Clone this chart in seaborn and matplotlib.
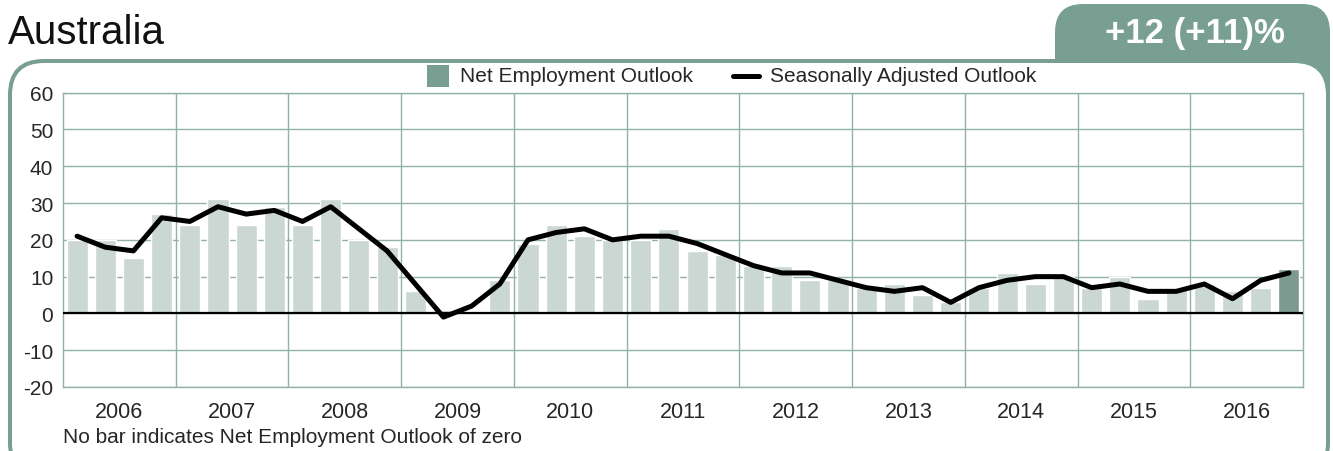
import numpy as np
import pandas as pd
import matplotlib
matplotlib.use("Agg")
import matplotlib.pyplot as plt
import seaborn as sns
from matplotlib.patches import FancyBboxPatch, Rectangle
from matplotlib.lines import Line2D

# quarterly survey results, 2006 Q1 .. 2016 Q4
years = list(range(2006, 2017))
quarters = [f"{y} Q{q}" for y in years for q in range(1, 5)]
net_outlook = [20, 20, 15, 27, 24, 31, 24, 29, 24, 31, 20, 18,
               6, 1, 0, 9, 19, 24, 21, 20, 20, 23, 17, 16,
               13, 13, 9, 9, 7, 8, 5, 3, 7, 11, 8, 10,
               7, 10, 4, 7, 8, 6, 7, 12]
seasonal_adj = [21, 18, 17, 26, 25, 29, 27, 28, 25, 29, 23, 17,
                8, -1, 2, 8, 20, 22, 23, 20, 21, 21, 19, 16,
                13, 11, 11, 9, 7, 6, 7, 3, 7, 9, 10, 10,
                7, 8, 6, 6, 8, 4, 9, 11]
y_ticks = list(range(-20, 61, 10))

GREEN = "#789f91"
LIGHT = "#c9d9d3"
GRID = "#92b2a6"

sns.set_style("white")
plt.rcParams["font.family"] = ["Liberation Sans", "DejaVu Sans"]

df = pd.DataFrame({
    "quarter": quarters,
    "net": net_outlook,
    "sa": seasonal_adj,
    "kind": ["past"] * (len(quarters) - 1) + ["current"],
})
df["pos"] = np.arange(len(df))

W, H = 1333, 452
fig = plt.figure(figsize=(W / 100, H / 100), dpi=100)

# background: frame, tab, title
bg = fig.add_axes([0, 0, 1, 1])
bg.set_xlim(0, W)
bg.set_ylim(H, 0)
bg.axis("off")
bg.add_patch(FancyBboxPatch((1055, 5), 275, 120, boxstyle="round,pad=0,rounding_size=28",
                            fc=GREEN, ec="none"))
bg.add_patch(FancyBboxPatch((8, 60), 1322, 420, boxstyle="round,pad=0,rounding_size=36",
                            fc=GREEN, ec="none"))
bg.add_patch(FancyBboxPatch((12, 64), 1314, 412, boxstyle="round,pad=0,rounding_size=32",
                            fc="white", ec="none"))
bg.text(8, 33, "Australia", fontsize=29, va="center", ha="left", color="#111111")
bg.text(1195, 33, "+12 (+11)%", fontsize=25, fontweight="bold", va="center", ha="center",
        color="white")

# legend drawn by hand
bg.add_patch(Rectangle((427, 66), 22, 22, fc=GREEN, ec="none"))
bg.text(460, 77, "Net Employment Outlook", fontsize=15, va="center", ha="left")
bg.add_line(Line2D([733, 759], [77, 77], color="black", lw=3.6, solid_capstyle="round"))
bg.text(770, 77, "Seasonally Adjusted Outlook", fontsize=15, va="center", ha="left")
bg.text(63, 438, "No bar indicates Net Employment Outlook of zero", fontsize=15,
        va="center", ha="left")

# main chart
ax = fig.add_axes([63 / W, 1 - 388 / H, 1240 / W, (388 - 93.7) / H])
ax.set_facecolor("white")
sns.barplot(data=df, x="quarter", y="net", hue="kind", palette={"past": LIGHT, "current": GREEN},
            dodge=False, width=0.75, legend=False, ax=ax, zorder=2)
sns.lineplot(data=df, x="pos", y="sa", color="black", lw=3.6, ax=ax, zorder=4,
             solid_joinstyle="round", solid_capstyle="round")
ax.axhline(0, color="black", lw=1.6, zorder=3)

ax.set_xlim(-0.5, len(quarters) - 0.5)
ax.set_ylim(-20, 60)
ax.set_yticks(y_ticks)
ax.set_yticklabels([str(v) for v in y_ticks], fontsize=15)
ax.set_xticks([4 * i + 1.5 for i in range(len(years))])
ax.set_xticklabels([str(y) for y in years], fontsize=15.5)
ax.set_xticks([4 * i + 3.5 for i in range(len(years) - 1)], minor=True)
ax.tick_params(axis="both", which="both", length=0)
ax.tick_params(axis="x", pad=10)
ax.tick_params(axis="y", pad=7)
ax.grid(axis="y", which="major", color=GRID, lw=1, zorder=1)
ax.grid(axis="x", which="minor", color=GRID, lw=1, zorder=1)
ax.grid(axis="x", which="major", visible=False)
ax.set_axisbelow(True)
for s in ax.spines.values():
    s.set_color(GRID)
    s.set_linewidth(1)
ax.set_xlabel("")
ax.set_ylabel("")

fig.savefig("out.png", dpi=100)
